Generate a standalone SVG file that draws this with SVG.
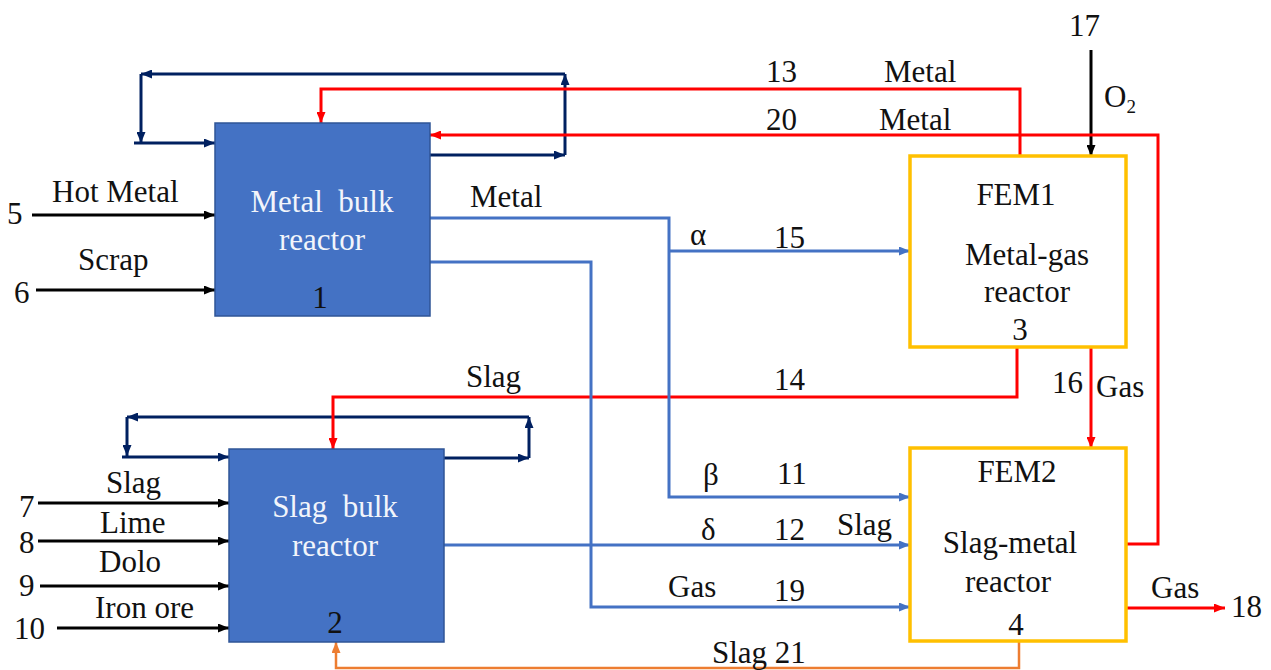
<svg xmlns="http://www.w3.org/2000/svg" width="1271" height="670" viewBox="0 0 1271 670">
<style>
text{font-family:'Liberation Serif','DejaVu Serif','Noto Serif',serif;font-size:31px;fill:#111}
.w{fill:#f2f5fb}
.c{text-anchor:middle}
.ln{fill:none;stroke-width:3}
.k{stroke:#000}
.n{stroke:#002060}
.r{stroke:#ff0000}
.b{stroke:#4472c4}
.o{stroke:#ed7d31;stroke-width:2.5}
.bulk{fill:#4472c4;stroke:#2f5597;stroke-width:1.5}
.fem{fill:#fff;stroke:#ffc000;stroke-width:3.5}
</style>
<defs>
<marker id="ak" markerUnits="userSpaceOnUse" markerWidth="11" markerHeight="9" refX="11" refY="4.5" orient="auto"><path d="M0,0 L11,4.5 L0,9 z" fill="#000"/></marker>
<marker id="an" markerUnits="userSpaceOnUse" markerWidth="11" markerHeight="9" refX="11" refY="4.5" orient="auto"><path d="M0,0 L11,4.5 L0,9 z" fill="#002060"/></marker>
<marker id="ar" markerUnits="userSpaceOnUse" markerWidth="11" markerHeight="9" refX="11" refY="4.5" orient="auto"><path d="M0,0 L11,4.5 L0,9 z" fill="#ff0000"/></marker>
<marker id="ab" markerUnits="userSpaceOnUse" markerWidth="11" markerHeight="9" refX="11" refY="4.5" orient="auto"><path d="M0,0 L11,4.5 L0,9 z" fill="#4472c4"/></marker>
<marker id="ao" markerUnits="userSpaceOnUse" markerWidth="11" markerHeight="9" refX="11" refY="4.5" orient="auto"><path d="M0,0 L11,4.5 L0,9 z" fill="#ed7d31"/></marker>
</defs>

<g id="connectors">
<path class="ln n" d="M430,155 H565" marker-end="url(#an)"/>
<path class="ln n" d="M565,155 V74" marker-end="url(#an)"/>
<path class="ln n" d="M565,74 H141" marker-end="url(#an)"/>
<path class="ln n" d="M141,74 V143" marker-end="url(#an)"/>
<path class="ln n" d="M134,143 H215" marker-end="url(#an)"/>
<path class="ln n" d="M444,458 H529" marker-end="url(#an)"/>
<path class="ln n" d="M529,458 V417" marker-end="url(#an)"/>
<path class="ln n" d="M529,417 H127" marker-end="url(#an)"/>
<path class="ln n" d="M127,417 V456" marker-end="url(#an)"/>
<path class="ln n" d="M122,457 H229" marker-end="url(#an)"/>
<path class="ln k" d="M32,215 H215" marker-end="url(#ak)"/>
<path class="ln k" d="M36,290 H215" marker-end="url(#ak)"/>
<path class="ln k" d="M38,503 H229" marker-end="url(#ak)"/>
<path class="ln k" d="M38,541 H229" marker-end="url(#ak)"/>
<path class="ln k" d="M40,586 H229" marker-end="url(#ak)"/>
<path class="ln k" d="M57,628 H229" marker-end="url(#ak)"/>
<path class="ln k" d="M1091,50 V156" marker-end="url(#ak)"/>
<path class="ln r" d="M1020,156 V89 H321 V123" marker-end="url(#ar)"/>
<path class="ln r" d="M1126,544 H1158 V135 H430" marker-end="url(#ar)"/>
<path class="ln r" d="M1017,347 V397 H333 V449" marker-end="url(#ar)"/>
<path class="ln r" d="M1091,347 V448" marker-end="url(#ar)"/>
<path class="ln r" d="M1126,608 H1225" marker-end="url(#ar)"/>
<path class="ln b" d="M430,218 H669 V497 H910" marker-end="url(#ab)"/>
<path class="ln b" d="M669,251 H910" marker-end="url(#ab)"/>
<path class="ln b" d="M430,262 H591 V607 H910" marker-end="url(#ab)"/>
<path class="ln b" d="M444,545 H910" marker-end="url(#ab)"/>
<path class="ln o" d="M1019,642 V668 H336 V642" marker-end="url(#ao)"/>
</g>

<g id="metal-bulk">
<rect class="bulk" x="215" y="123" width="215" height="193"/>
<text class="w c" x="322" y="212" xml:space="preserve">Metal  bulk</text>
<text class="w c" x="322" y="250">reactor</text>
<text class="c" x="320" y="308">1</text>
</g>

<g id="slag-bulk">
<rect class="bulk" x="229" y="449" width="215" height="193"/>
<text class="w c" x="335" y="517" xml:space="preserve">Slag  bulk</text>
<text class="w c" x="335" y="556">reactor</text>
<text class="c" x="335" y="633">2</text>
</g>

<g id="fem1">
<rect class="fem" x="910" y="156" width="216" height="191"/>
<text class="c" x="1016" y="205">FEM1</text>
<text class="c" x="1027" y="265">Metal-gas</text>
<text class="c" x="1027" y="302">reactor</text>
<text class="c" x="1020" y="340">3</text>
</g>

<g id="fem2">
<rect class="fem" x="910" y="448" width="216" height="193"/>
<text class="c" x="1017" y="482">FEM2</text>
<text class="c" x="1010" y="553">Slag-metal</text>
<text class="c" x="1008" y="592">reactor</text>
<text class="c" x="1016" y="635">4</text>
</g>

<g id="labels">
<text x="7" y="224">5</text>
<text x="52" y="202">Hot Metal</text>
<text x="14" y="303">6</text>
<text x="78" y="270">Scrap</text>
<text x="19" y="517">7</text>
<text x="106" y="493">Slag</text>
<text x="19" y="553">8</text>
<text x="100" y="533">Lime</text>
<text x="19" y="596">9</text>
<text x="99" y="572">Dolo</text>
<text x="14" y="639">10</text>
<text x="95" y="618">Iron ore</text>
<text x="766" y="82">13</text>
<text x="884" y="82">Metal</text>
<text x="766" y="130">20</text>
<text x="879" y="130">Metal</text>
<text x="1069" y="36">17</text>
<text x="1104" y="107">O<tspan font-size="19" dy="6">2</tspan></text>
<text x="470" y="207">Metal</text>
<text x="690" y="245" font-size="34">α</text>
<text x="774" y="248">15</text>
<text x="466" y="387">Slag</text>
<text x="774" y="390">14</text>
<text x="1052" y="393">16</text>
<text x="1096" y="397">Gas</text>
<text x="703" y="485" font-size="34">β</text>
<text x="777" y="484">11</text>
<text x="701" y="540" font-size="34">δ</text>
<text x="774" y="540">12</text>
<text x="837" y="535">Slag</text>
<text x="668" y="597">Gas</text>
<text x="774" y="601">19</text>
<text x="1151" y="598">Gas</text>
<text x="1231" y="617">18</text>
<text x="712" y="663">Slag 21</text>
</g>
</svg>
